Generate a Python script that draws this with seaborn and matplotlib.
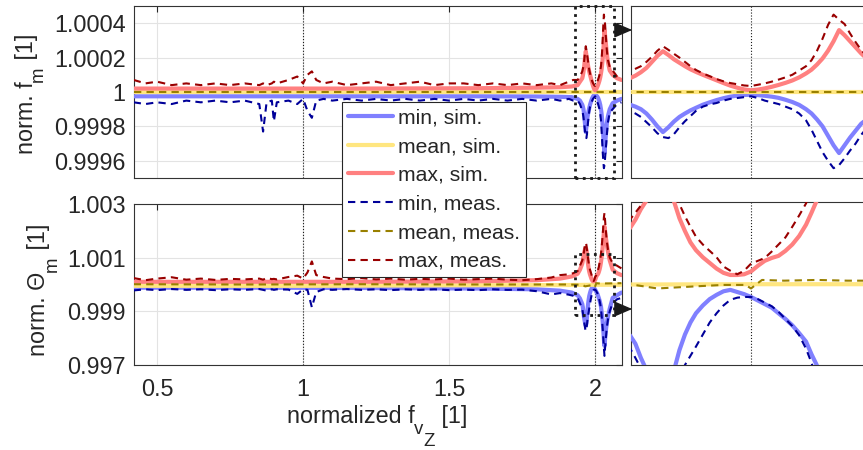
import matplotlib
matplotlib.use('Agg')
import matplotlib.pyplot as plt
import seaborn as sns
from matplotlib.patches import Rectangle, FancyArrowPatch

# ---------------- data ----------------
# all y values are deviations from 1 in ppm (1e-6)
x_coarse_sim = [0.42, 0.8, 1.2, 1.6, 1.8, 1.88, 1.92]
x_coarse_meas = [0.42, 0.46, 0.5, 0.55, 0.6, 0.65, 0.7, 0.75, 0.8, 0.85,
                 0.863, 0.875, 0.893, 0.9, 0.91, 0.95, 0.98, 1.0, 1.015, 1.03,
                 1.045, 1.07, 1.1, 1.15, 1.2, 1.25, 1.3, 1.35, 1.4, 1.45,
                 1.5, 1.55, 1.6, 1.65, 1.7, 1.75, 1.8, 1.85, 1.88, 1.91, 1.925]
x_fine = [1.94, 1.948, 1.956, 1.958, 1.96, 1.962, 1.964, 1.966, 1.968, 1.970, 1.972, 1.974, 1.976, 1.978, 1.98,
          1.9825, 1.985, 1.9875, 1.99, 1.9925, 1.995, 1.9975, 2.0, 2.0025, 2.005, 2.0075, 2.01, 2.0125, 2.015,
          2.0175, 2.02,
          2.022, 2.024, 2.026, 2.028, 2.030, 2.032, 2.034, 2.036, 2.038, 2.04, 2.042, 2.044,
          2.05, 2.06, 2.075, 2.09]

# norm. f_m
x_fm_mean = [0.42, 1.0, 1.5, 2.0, 2.09]
fm_mean_sim = [0, 0, 0, 0, 0]
fm_mean_meas = [0, 0, 0, 0, 0]
fm_min_sim_c = [-25, -25, -25, -25, -26, -28, -30]
fm_min_sim_f = [-40, -50, -74, -85, -100, -125, -160, -200, -233, -205, -172, -145, -125, -107, -92,
                -74, -60, -47, -36, -27, -21, -17, -16, -18, -22, -27, -34, -45, -58, -75, -100,
                -125, -160, -200, -255, -310, -355, -310, -265, -225, -185, -160, -140,
                -100, -65, -50, -40]
fm_max_sim_c = [20, 20, 20, 22, 25, 28, 32]
fm_max_sim_f = [40, 60, 80, 95, 115, 140, 175, 210, 237, 215, 190, 170, 150, 132, 117,
                100, 84, 68, 52, 37, 25, 15, 10, 14, 21, 30, 41, 53, 67, 85, 108,
                130, 160, 195, 240, 295, 360, 330, 295, 260, 225, 195, 172,
                125, 100, 80, 70]
fm_min_meas_c = [-60, -70, -60, -70, -50, -60, -50, -60, -50, -70,
                 -230, -60, -50, -170, -60, -50, -70, -40, -110, -150,
                 -50, -40, -50, -40, -50, -40, -50, -40, -50, -40,
                 -50, -40, -50, -40, -50, -40, -50, -40, -50, -40, -50]
fm_min_meas_f = [-50, -70, -110, -125, -145, -175, -205, -240, -262, -268, -245, -205, -170, -140, -110,
                 -85, -72, -64, -50, -40, -35, -30, -25, -35, -50, -60, -70, -85, -100, -125, -165,
                 -220, -285, -350, -400, -443, -425, -385, -340, -300, -250, -210, -175,
                 -120, -100, -70, -60]
fm_max_meas_c = [70, 50, 60, 40, 50, 40, 50, 40, 50, 40,
                 50, 40, 50, 60, 50, 70, 90, 50, 100, 120,
                 70, 50, 60, 40, 50, 60, 40, 50, 60, 40,
                 50, 50, 40, 50, 40, 50, 40, 50, 40, 60, 70]
fm_max_meas_f = [70, 90, 120, 135, 150, 175, 205, 240, 266, 245, 222, 200, 175, 150, 128,
                 108, 92, 75, 62, 52, 45, 38, 35, 42, 50, 60, 72, 85, 100, 125, 150,
                 185, 240, 310, 390, 450, 420, 395, 340, 290, 245, 210, 185,
                 145, 125, 90, 70]

# norm. Theta_m
x_th_mean_sim = [0.42, 1.0, 1.5, 1.9, 2.0, 2.09]
th_mean_sim = [-50, -50, -30, -20, -10, -10]
x_th_mean_meas = [0.42, 0.8, 1.2, 1.6, 1.9, 1.956, 1.966, 1.98, 1.99, 1.998, 2.0, 2.004, 2.012, 2.024, 2.035,
                  2.044, 2.09]
th_mean_meas = [10, 0, 10, 0, 0, -10, -70, -40, -20, -20, -70, 50, 40, 50, 40, 40, 50]
th_min_sim_c = [-120, -120, -130, -150, -180, -230, -300]
th_min_sim_f = [-400, -520, -730, -850, -1050, -1220, -1350, -1460, -1540, -1450, -1230, -940, -720, -550, -420,
                -310, -220, -160, -110, -90, -120, -150, -190, -240, -290, -340, -420, -500, -590, -700, -820,
                -1000, -1160, -1400, -1700, -2050, -2290, -2050, -1800, -1600, -1450, -1300, -1200,
                -900, -500, -400, -300]
th_max_sim_c = [100, 100, 100, 120, 160, 220, 300]
th_max_sim_f = [400, 550, 780, 900, 1050, 1170, 1260, 1330, 1370, 1300, 1160, 920, 740, 580, 470,
                370, 290, 210, 150, 120, 120, 130, 170, 250, 320, 360, 390, 460, 550, 670, 830,
                1000, 1180, 1400, 1680, 1950, 2160, 2000, 1800, 1650, 1500, 1350, 1220,
                900, 550, 420, 350]
th_min_meas_c = [-220, -180, -210, -170, -200, -180, -210, -180, -200, -170,
                 -200, -230, -180, -200, -180, -190, -350, -180, -200, -850,
                 -280, -180, -200, -170, -200, -180, -210, -180, -200, -180,
                 -210, -190, -210, -180, -200, -190, -250, -370, -320, -380, -420]
th_min_meas_f = [-500, -700, -910, -1050, -1200, -1350, -1500, -1650, -1730, -1650, -1500, -1300, -1150, -1020, -890,
                 -720, -550, -420, -310, -230, -200, -190, -190, -220, -270, -320, -400, -500, -600, -730, -920,
                 -1120, -1380, -1650, -2000, -2350, -2660, -2350, -2100, -1850, -1600, -1450, -1300,
                 -1000, -700, -550, -500]
th_max_meas_c = [240, 160, 220, 270, 180, 220, 170, 210, 190, 220,
                 180, 240, 200, 210, 190, 280, 330, 220, 450, 860,
                 350, 280, 220, 200, 240, 190, 220, 180, 210, 190,
                 220, 180, 200, 220, 180, 160, 200, 260, 350, 380, 420]
th_max_meas_f = [500, 700, 900, 1000, 1100, 1220, 1400, 1520, 1560, 1480, 1300, 1120, 950, 800, 660,
                 550, 460, 370, 240, 180, 130, 180, 280, 320, 360, 450, 550, 650, 800, 960, 1130,
                 1350, 1600, 1850, 2200, 2500, 2670, 2400, 2100, 1850, 1600, 1450, 1300,
                 1000, 800, 700, 600]

labels = ['min, sim.', 'mean, sim.', 'max, sim.', 'min, meas.', 'mean, meas.', 'max, meas.']
fm_ticks = [0.9996, 0.9998, 1.0, 1.0002, 1.0004]
fm_ticklabels = ['0.9996', '0.9998', '1', '1.0002', '1.0004']
th_ticks = [0.997, 0.999, 1.001, 1.003]
th_ticklabels = ['0.997', '0.999', '1.001', '1.003']
x_ticks = [0.5, 1.0, 1.5, 2.0]
x_ticklabels = ['0.5', '1', '1.5', '2']


def norm(ppm):
    # ppm deviation -> normalized value
    return [1 + v * 1e-6 for v in ppm]


x_sim = x_coarse_sim + x_fine
x_meas = x_coarse_meas + x_fine

# ---------------- style ----------------
sns.set_theme(style='white')
plt.rcParams['font.family'] = ['Liberation Sans', 'DejaVu Sans']

c_sim = ['#8080ff', '#ffe680', '#ff8080']
c_meas = ['#000099', '#998000', '#990000']
dash = (0, (3.5, 2.5))
FS = 16.8
TXT = '#262626'
W, H = 863, 450

fig = plt.figure(figsize=(8.63, 4.5), dpi=100)


def px_axes(x0, y0, x1, y1):
    return fig.add_axes([x0 / W, 1 - y1 / H, (x1 - x0) / W, (y1 - y0) / H])


ax_fm = px_axes(134, 6, 622, 178)
ax_fmz = px_axes(631, 6, 871, 178)
ax_th = px_axes(134, 204, 622, 365)
ax_thz = px_axes(631, 202, 871, 365)

fm_series = [(x_sim, fm_min_sim_c + fm_min_sim_f), (x_fm_mean, fm_mean_sim), (x_sim, fm_max_sim_c + fm_max_sim_f),
             (x_meas, fm_min_meas_c + fm_min_meas_f), (x_fm_mean, fm_mean_meas),
             (x_meas, fm_max_meas_c + fm_max_meas_f)]
th_series = [(x_sim, th_min_sim_c + th_min_sim_f), (x_th_mean_sim, th_mean_sim), (x_sim, th_max_sim_c + th_max_sim_f),
             (x_meas, th_min_meas_c + th_min_meas_f), (x_th_mean_meas, th_mean_meas),
             (x_meas, th_max_meas_c + th_max_meas_f)]
colors = c_sim + c_meas

for ax, series in [(ax_fm, fm_series), (ax_fmz, fm_series), (ax_th, th_series), (ax_thz, th_series)]:
    for i, (xs, ys) in enumerate(series):
        if i < 3:
            sns.lineplot(x=xs, y=norm(ys), ax=ax, color=colors[i], lw=3, label=labels[i],
                         legend=False, estimator=None, sort=False, zorder=3)
        else:
            sns.lineplot(x=xs, y=norm(ys), ax=ax, color=colors[i], lw=1.5, linestyle=dash, label=labels[i],
                         legend=False, estimator=None, sort=False, zorder=4)
    for s in ax.spines.values():
        s.set_color('#333333')
        s.set_linewidth(0.8)
    ax.tick_params(direction='in', length=4, width=0.8, top=True, right=True,
                   colors=TXT, labelsize=FS)
    ax.set_xlabel('')
    ax.set_ylabel('')

# main panels
for ax in [ax_fm, ax_th]:
    ax.set_xlim(0.421, 2.092)
    ax.set_xticks(x_ticks)
    ax.grid(True, color='#e3e3e3', lw=0.8)
    ax.set_axisbelow(True)
    ax.axvline(1.0, color='k', ls=':', lw=0.8, zorder=2)
    ax.axvline(2.0, color='k', ls=':', lw=0.8, zorder=2)
    ax.tick_params(axis='y', pad=6)
    ax.tick_params(axis='x', pad=9)

ax_fm.set_ylim(0.9995, 1.0005)
ax_fm.set_yticks(fm_ticks)
ax_fm.set_yticklabels(fm_ticklabels)
ax_fm.tick_params(labelbottom=False)

ax_th.set_ylim(0.997, 1.003)
ax_th.set_yticks(th_ticks)
ax_th.set_yticklabels(th_ticklabels)
ax_th.set_xticklabels(x_ticklabels)

# zoom panels
zx = (1.9564, 2.0436)
ax_fmz.set_xlim(*zx)
ax_fmz.set_ylim(0.9995, 1.0005)
ax_fmz.set_xticks([])
ax_fmz.set_yticks(fm_ticks)
ax_fmz.tick_params(labelleft=False, labelright=False)
ax_fmz.grid(True, axis='y', color='#e3e3e3', lw=0.8)
ax_fmz.set_axisbelow(True)
ax_fmz.axvline(2.0, color='k', ls=':', lw=0.8, zorder=2)

ax_thz.set_xlim(*zx)
ax_thz.set_ylim(0.99885, 1.00115)
ax_thz.set_xticks([])
ax_thz.set_yticks([])
ax_thz.axvline(2.0, color='k', ls=':', lw=0.8, zorder=2)

# zoom boxes and arrows
ax_fm.add_patch(Rectangle((1.932, 0.9995), 0.134, 0.001, fill=False, ls=':', lw=2,
                          ec='k', clip_on=False, zorder=6))
ax_th.add_patch(Rectangle((1.932, 0.99885), 0.134, 0.0023, fill=False, ls=':', lw=2,
                          ec='k', clip_on=False, zorder=6))
for y in [30, 309]:
    fig.add_artist(FancyArrowPatch((614 / W, 1 - y / H), (635 / W, 1 - y / H),
                                   transform=fig.transFigure,
                                   arrowstyle='-|>,head_length=0.7,head_width=0.3',
                                   mutation_scale=16, color='k', lw=1))


# axis labels with MATLAB-like (large) subscripts, built from pieces
def rich_label(cx, cy, pieces, vertical=False):
    r = fig.canvas.get_renderer()
    arts, widths = [], []
    for txt, k, drop in pieces:
        t = fig.text(0, 0, txt, fontsize=FS * k, color=TXT, ha='left', va='baseline',
                     rotation=90 if vertical else 0, rotation_mode='anchor')
        bb = t.get_window_extent(renderer=r)
        arts.append((t, drop))
        widths.append(bb.height if vertical else bb.width)
    pos = -sum(widths) / 2
    for (t, drop), w in zip(arts, widths):
        if vertical:
            t.set_position(((cx + drop) / W, 1 - (cy - pos) / H))
        else:
            t.set_position(((cx + pos) / W, 1 - (cy + drop) / H))
        pos += w


rich_label(33, 94, [('norm. f', 1, 0), ('m', 0.8, 10), (' [1]', 1, 0)], vertical=True)
rich_label(45, 290, [('norm. Θ', 1, 0), ('m', 0.8, 12), (' [1]', 1, 0)], vertical=True)
rich_label(377, 423, [('normalized f', 1, 0), ('v', 0.8, 11), ('Z', 0.8, 23), (' [1]', 1, 0)])

# legend
handles, labs = ax_fm.get_legend_handles_labels()
leg = fig.legend(handles[:6], labs[:6], loc='upper left', bbox_to_anchor=(342 / W, 1 - 102 / H),
                 fontsize=15.2, handlelength=2.1, handletextpad=0.25, labelspacing=0.46,
                 borderpad=0.3, borderaxespad=0, fancybox=False, framealpha=1,
                 edgecolor=TXT)
leg.get_frame().set_linewidth(0.8)

fig.savefig('out.png', dpi=100)
